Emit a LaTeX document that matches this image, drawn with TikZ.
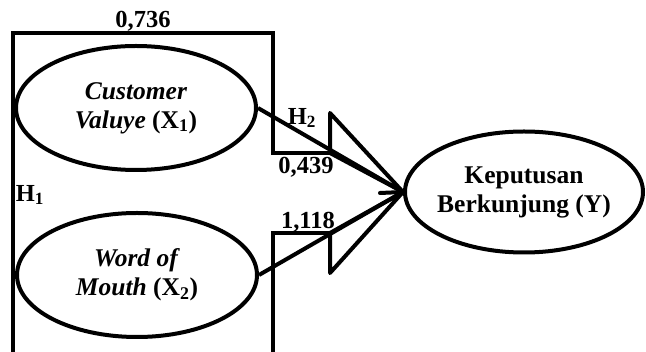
\documentclass[tikz,border=0pt]{standalone}
\usepackage{fontspec}
\setmainfont{Liberation Serif}
\usetikzlibrary{shapes.geometric}
\begin{document}
\begin{tikzpicture}[x=1pt,y=-1pt,line width=4pt,
  var/.style={ellipse, draw, line width=4pt, minimum width=240pt, minimum height=124pt,
    align=center, inner xsep=-25pt, inner ysep=-10pt, font=\fontsize{25.5}{29}\selectfont\bfseries},
  lbl/.style={inner sep=0pt, font=\fontsize{24.5}{26}\selectfont\bfseries},
  head/.style={draw, line width=4pt, line join=round}]
\useasboundingbox (0,0) rectangle (646,352);
% variables
\node[var] (x1) at (136,108) {\textit{Customer}\\\textit{Valuye} (X\textsubscript{1})};
\node[var] (x2) at (137,275) {\textit{Word of}\\\textit{Mouth} (X\textsubscript{2})};
\node[var, minimum width=238pt, minimum height=121pt] (y) at (524,192) {Keputusan\\Berkunjung (Y)};
% corners
\coordinate (tip) at (y.west);
\coordinate (a1) at (330,113);
\coordinate (a2) at (330,153);
\coordinate (b1) at (330,233);
\coordinate (b2) at (330,273);
\coordinate (c1) at (273,153);
\coordinate (c2) at (273,33);
\coordinate (c3) at (13,33);
\coordinate (c4) at (13,358);
\coordinate (d1) at (273,233);
\coordinate (d2) at (273,358);
\coordinate (dash) at (380,193);
% bracket lines
\draw (a2) -- (c1) -- (c2) -- (c3) -- (c4);
\draw (b1) -- (d1) -- (d2);
% arrows
\draw (x1.east) -- (tip);
\draw (x2.east) -- (tip);
\draw[head] (a1) -- (tip) -- (a2) -- cycle;
\draw[head] (b2) -- (tip) -- (b1) -- cycle;
\draw[line cap=round] (dash) -- (tip);
% labels
\node[lbl] (l1) at (143,21) {0,736};
\node[lbl] (l2) at (302,118) {H\textsubscript{2}};
\node[lbl] (l3) at (306,167) {0,439};
\node[lbl] (l4) at (30,195) {H\textsubscript{1}};
\node[lbl] (l5) at (308,222) {1,118};
\end{tikzpicture}
\end{document}
